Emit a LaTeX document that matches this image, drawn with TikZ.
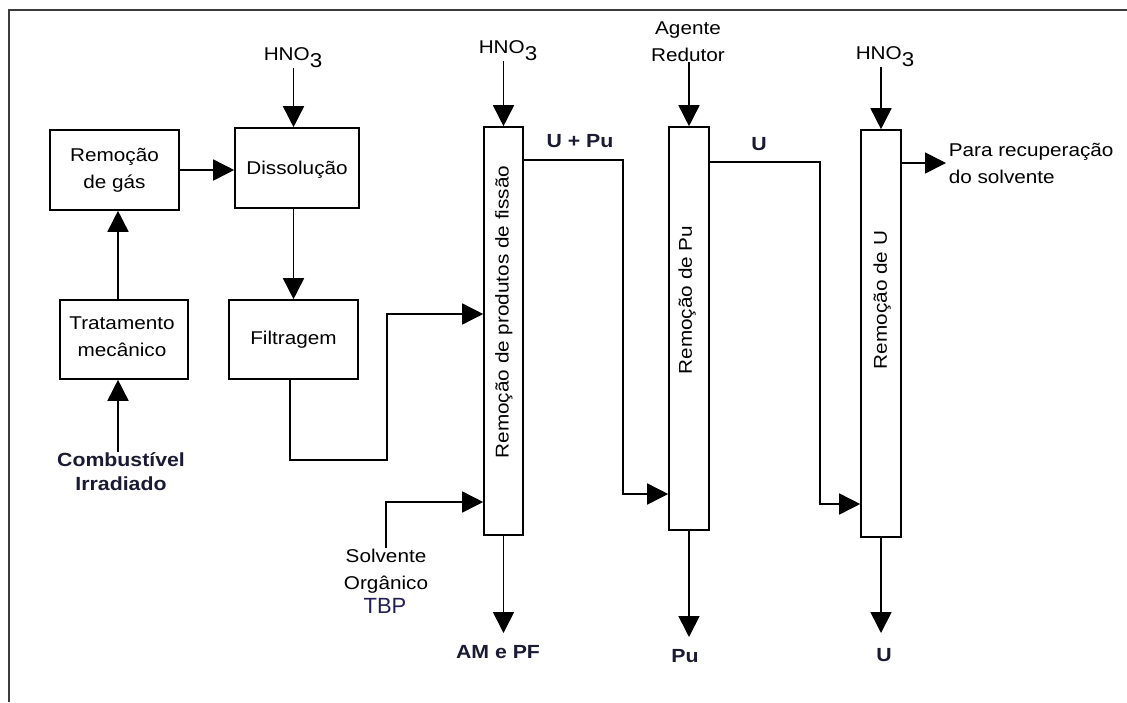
\documentclass[tikz,border=0pt]{standalone}
\usepackage{fontspec}
\setmainfont{Liberation Sans}[FakeStretch=1.12]
\newfontfamily\plainsans{Liberation Sans}
\usetikzlibrary{arrows.meta,calc}
\definecolor{labcol}{RGB}{26,26,51}
\definecolor{tbpcol}{RGB}{35,30,90}
\definecolor{framecol}{RGB}{60,60,60}
\newcommand{\subthree}{\raisebox{-7pt}{\fontsize{20}{20}\selectfont 3}}
\begin{document}
\begin{tikzpicture}[x=1pt,y=-1pt,
  line width=1.6pt,
  box/.style={draw, rectangle, inner sep=0pt, line width=1.6pt},
  txt/.style={inner sep=0pt, align=center, font=\fontsize{18.5}{27}\selectfont},
  lab/.style={inner sep=0pt, align=center, text=labcol, font=\fontsize{19}{24}\selectfont\bfseries},
  arr/.style={-{Triangle[length=21pt,width=21pt]}, line width=1.6pt},
]
\useasboundingbox (0,0) rectangle (1127,702);
\draw[line width=2pt, framecol] (9,702) -- (9,10) -- (1127,10);

% boxes
\node[box, minimum width=129pt, minimum height=80pt] (gas) at (114.5,170) {};
\node[txt] (gastxt) at (114.5,170) {Remoção\\de gás};
\node[box, minimum width=124pt, minimum height=80pt] (diss) at (297,168) {};
\node[txt] (disstxt) at (297,170) {Dissolução};
\node[box, minimum width=128pt, minimum height=79pt] (trat) at (124,339.5) {};
\node[txt] (trattxt) at (122,337) {Tratamento\\mecânico};
\node[box, minimum width=129pt, minimum height=79pt] (filt) at (293.5,339.5) {};
\node[txt] (filttxt) at (293.5,340) {Filtragem};

% columns
\node[box, minimum width=39pt, minimum height=408pt] (c1) at (503.5,331) {};
\node[txt, rotate=90] (c1txt) at (504,312) {Remoção de produtos de fissão};
\node[box, minimum width=40pt, minimum height=403pt] (c2) at (689,328.5) {};
\node[txt, rotate=90] (c2txt) at (687,300) {Remoção de Pu};
\node[box, minimum width=40pt, minimum height=407pt] (c3) at (881,333.5) {};
\node[txt, rotate=90] (c3txt) at (882,300) {Remoção de U};

% top inputs
\node[txt, anchor=south] (h1) at (293,68) {HNO\subthree};
\node[txt, anchor=south] (h2) at (508,61) {HNO\subthree};
\node[txt, anchor=south] (ag) at (688,62) {Agente\\Redutor};
\node[txt, anchor=south] (h3) at (885,67) {HNO\subthree};

\coordinate (ha) at (h1.south -| filt.north);
\draw[arr] (ha) -- (ha |- diss.north);
\draw[arr] (c1.north |- h2.south) -- (c1.north);
\draw[arr] (c2.north |- ag.south) -- (c2.north);
\draw[arr] (c3.north |- h3.south) -- (c3.north);

% left chain
\node[lab] (comb) at (121,472) {Combustível\\Irradiado};
\coordinate (t1) at ([xshift=-6pt]trat.north);
\coordinate (t2) at ([xshift=-6pt]trat.south);
\draw[arr] (t2 |- comb.north) -- (t2);
\draw[arr] (t1) -- (t1 |- gas.south);
\draw[arr] (gas.east) -- (diss.west |- gas.east);
\draw[arr] (filt.north |- diss.south) -- (filt.north);

% filtragem to column 1
\coordinate (fb) at (290,460);
\coordinate (fc) at (387,460);
\coordinate (fd) at (387,314);
\draw[arr] (fb |- filt.south) -- (fb) -- (fc) -- (fd) -- (c1.west |- fd);

% solvent
\node[txt, anchor=north] (solv) at (386,548) {Solvente\\Orgânico};
\node[inner sep=0pt, text=tbpcol, font=\plainsans\fontsize{22}{22}\selectfont] (tbp) at (385,606) {TBP};
\coordinate (sa) at (386,502);
\draw[arr] (solv.north) -- (sa) -- (c1.west |- sa);

% column 1 to column 2
\node[lab] (upu) at (580,141) {U + Pu};
\coordinate (ua) at (623,160);
\coordinate (ub) at (623,494);
\draw[arr] (c1.east |- ua) -- (ua) -- (ub) -- (c2.west |- ub);

% column 2 to column 3
\node[lab] (u1) at (759,144) {U};
\coordinate (va) at (820,162);
\coordinate (vb) at (820,504);
\draw[arr] (c2.east |- va) -- (va) -- (vb) -- (c3.west |- vb);

% column 3 output
\coordinate (wa) at (946,163);
\draw[arr] (c3.east |- wa) -- (wa);
\node[txt, anchor=west, align=left] (rec) at (948,163) {Para recuperação\\do solvente};

% bottom outputs
\node[lab] (amp) at (498,652) {AM e PF};
\node[lab] (pu) at (685,656) {Pu};
\node[lab] (u2) at (884,655) {U};
\coordinate (ea) at (0,633);
\coordinate (eb) at (0,637);
\draw[arr] (c1.south) -- (c1.south |- ea);
\draw[arr] (c2.south) -- (c2.south |- eb);
\draw[arr] (c3.south) -- (c3.south |- ea);
\end{tikzpicture}
\end{document}
